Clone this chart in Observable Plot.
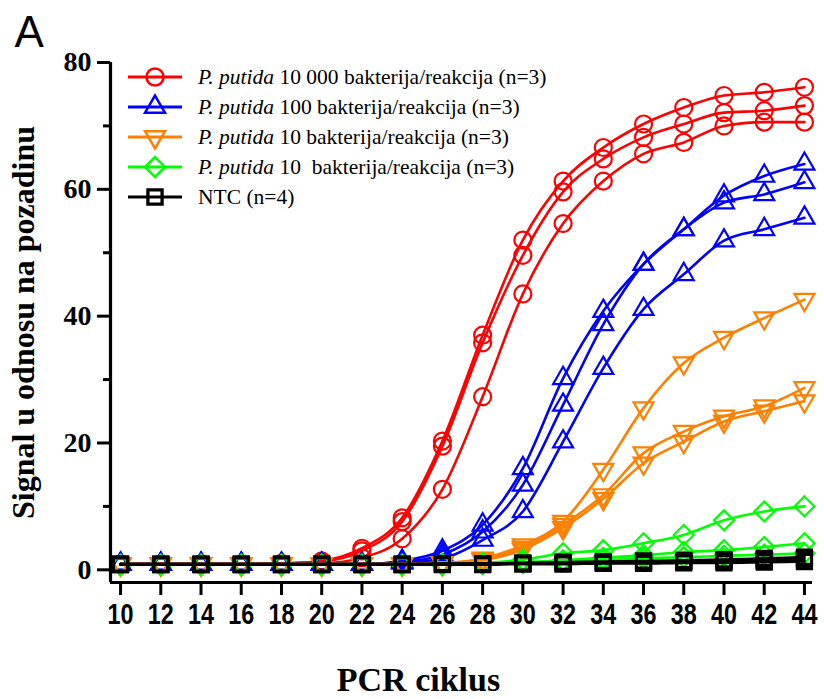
<!DOCTYPE html>
<html>
<head>
<meta charset="utf-8">
<script src="https://cdn.jsdelivr.net/npm/d3@7"></script>
<script src="https://cdn.jsdelivr.net/npm/@observablehq/plot@0.6"></script>
<style>
  body { margin: 0; background: #fff; }
  #chart svg { display: block; }
  g[aria-label="y-axis tick label"] text { font-family: "Liberation Serif", "Times New Roman", serif; font-size: 28px; font-weight: bold; fill: #000; }
  g[aria-label="x-axis tick label"] text { font-family: "Liberation Sans", Arial, sans-serif; font-size: 30px; font-weight: bold; fill: #000; }
</style>
</head>
<body>
<div id="chart"></div>
<script>
// ---- data ----
const cycles = [10,12,14,16,18,20,22,24,26,28,30,32,34,36,38,40,42,44];

const red1 = [0.9,0.9,0.9,0.9,1.0,1.4,3.4,8.2,20.3,37.0,52.0,61.3,66.6,70.3,72.9,74.8,75.3,76.1];
const red2 = [0.9,0.9,0.9,0.9,1.0,1.3,3.0,7.6,19.5,35.8,49.6,59.6,64.8,68.2,70.3,72.1,72.4,73.2];
const red3 = [0.9,0.9,0.9,0.9,0.9,1.0,1.9,4.9,12.7,27.3,43.5,54.6,61.3,65.6,67.4,70.0,70.6,70.6];

const blue1 = [0.9,0.9,0.9,0.9,0.9,0.9,0.9,1.4,3.0,7.1,16.0,30.2,40.8,48.2,53.7,59.0,62.1,64.0];
const blue2 = [0.9,0.9,0.9,0.9,0.9,0.9,0.9,1.2,2.4,6.0,13.4,26.0,38.7,48.2,53.7,57.9,59.2,61.1];
const blue3 = [0.9,0.9,0.9,0.9,0.9,0.9,0.9,1.1,1.8,4.7,9.2,20.2,31.8,41.1,46.6,51.9,53.7,55.5];

const orange1 = [0.9,0.9,0.9,0.9,0.9,0.9,0.9,0.9,1.1,1.8,3.9,7.6,15.8,25.5,32.6,36.6,39.7,42.6];
const orange2 = [0.9,0.9,0.9,0.9,0.9,0.9,0.9,0.9,1.0,1.6,3.5,7.1,11.8,18.4,21.8,24.2,25.8,28.7];
const orange3 = [0.9,0.9,0.9,0.9,0.9,0.9,0.9,0.9,1.0,1.5,3.2,6.6,11.2,16.8,20.2,23.4,25.0,26.6];

const green1 = [0.8,0.8,0.8,0.8,0.8,0.8,0.8,0.8,0.9,1.1,1.6,2.6,3.1,4.2,5.5,7.8,9.2,10.0];
const green2 = [0.8,0.8,0.8,0.8,0.8,0.8,0.8,0.8,0.8,1.0,1.2,1.5,1.9,2.3,2.8,3.1,3.6,4.2];
const green3 = [0.8,0.8,0.8,0.8,0.8,0.8,0.8,0.8,0.8,0.9,1.1,1.3,1.5,1.8,2.0,2.2,2.4,2.6];

const ntc1 = [0.9,0.9,0.9,0.9,0.9,0.9,0.9,0.9,1.0,1.0,1.1,1.2,1.3,1.4,1.5,1.6,1.8,2.0];
const ntc2 = [0.9,0.9,0.9,0.9,0.9,0.9,0.9,0.9,0.9,1.0,1.0,1.1,1.2,1.3,1.4,1.5,1.6,1.8];
const ntc3 = [0.8,0.8,0.8,0.8,0.8,0.8,0.8,0.8,0.9,0.9,1.0,1.0,1.1,1.2,1.3,1.3,1.4,1.5];
const ntc4 = [0.8,0.8,0.8,0.8,0.8,0.8,0.8,0.8,0.8,0.8,0.9,0.9,1.0,1.0,1.1,1.1,1.2,1.3];

const groupNames = ["10000", "100", "10a", "10b", "NTC"];
const groupReplicates = [
  [red1, red2, red3],
  [blue1, blue2, blue3],
  [orange1, orange2, orange3],
  [green1, green2, green3],
  [ntc1, ntc2, ntc3, ntc4]
];
const legendItalic = ["P. putida", "P. putida", "P. putida", "P. putida", ""];
const legendRest = [
  " 10 000 bakterija/reakcija (n=3)",
  " 100 bakterija/reakcija (n=3)",
  " 10 bakterija/reakcija (n=3)",
  " 10  bakterija/reakcija (n=3)",
  "NTC (n=4)"
];
const yMajorTicks = [0, 20, 40, 60, 80];
const yMinorTicks = [10, 30, 50, 70];
const xTicks = [10,12,14,16,18,20,22,24,26,28,30,32,34,36,38,40,42,44];
const xDomain = [9.5, 44.4];
const yDomain = [-2, 80];

// ---- styles ----
const groupStyles = [
  {color: "#ff0000", symbol: "circle",    r: 8.5, rotate: 0,   sw: 2.2},
  {color: "#0000ff", symbol: "triangle2", r: 9.5, rotate: 0,   sw: 2.2},
  {color: "#ff8000", symbol: "triangle2", r: 9.5, rotate: 180, sw: 2.2},
  {color: "#00ff00", symbol: "diamond2",  r: 9,   rotate: 0,   sw: 2.2},
  {color: "#000000", symbol: "square",    r: 8,   rotate: 0,   sw: 3}
];
const d3Symbols = {circle: d3.symbolCircle, triangle2: d3.symbolTriangle2, diamond2: d3.symbolDiamond2, square: d3.symbolSquare};

// ---- long table ----
const rows = [];
groupReplicates.forEach((reps, g) => {
  reps.forEach((vals, r) => {
    vals.forEach((v, i) => rows.push({group: groupNames[g], rep: groupNames[g] + "-" + r, cycle: cycles[i], value: v}));
  });
});

const W = 824, H = 699;
const M = {left: 110, right: 12, top: 62, bottom: 117};

function legendMark() {
  const g = d3.create("svg:g").attr("aria-label", "legend").attr("text-anchor", "start");
  const x0 = M.left;
  groupNames.forEach((name, i) => {
    const st = groupStyles[i];
    const cy = M.top + 15 + i * 30;
    g.append("line")
      .attr("x1", x0 + 18).attr("x2", x0 + 72)
      .attr("y1", cy).attr("y2", cy)
      .attr("stroke", st.color).attr("stroke-width", 3);
    g.append("path")
      .attr("d", d3.symbol(d3Symbols[st.symbol], Math.PI * st.r * st.r)())
      .attr("transform", `translate(${x0 + 45},${cy}) rotate(${st.rotate})`)
      .attr("fill", "none").attr("stroke", st.color).attr("stroke-width", st.sw + 0.3);
    const t = g.append("text")
      .attr("x", x0 + 88).attr("y", cy + 7)
      .attr("text-anchor", "start")
      .attr("font-family", "'Liberation Serif', 'Times New Roman', serif")
      .attr("font-size", 21.5)
      .attr("fill", "#000")
      .style("white-space", "pre");
    if (legendItalic[i]) t.append("tspan").attr("font-style", "italic").text(legendItalic[i]);
    t.append("tspan").text(legendRest[i]);
  });
  return g.node();
}

const marks = [];
groupNames.forEach((name, g) => {
  const st = groupStyles[g];
  const data = rows.filter(d => d.group === name);
  marks.push(Plot.line(data, {x: "cycle", y: "value", z: "rep", stroke: st.color, strokeWidth: 2.6, curve: "monotone-x"}));
  marks.push(Plot.dot(data, {x: "cycle", y: "value", symbol: st.symbol, r: st.r, rotate: st.rotate, stroke: st.color, strokeWidth: st.sw, fill: "none"}));
});

const chart = Plot.plot({
  width: W,
  height: H,
  marginLeft: M.left,
  marginRight: M.right,
  marginTop: M.top,
  marginBottom: M.bottom,
  style: {background: "#fff", color: "#000", fontFamily: "'Liberation Serif', serif"},
  x: {domain: xDomain},
  y: {domain: yDomain},
  marks: [
    ...marks,
    Plot.ruleX([xDomain[0]], {y1: yDomain[0], y2: yDomain[1], strokeWidth: 3.2, stroke: "#000"}),
    Plot.ruleY([yDomain[0]], {x1: xDomain[0], x2: xDomain[1], strokeWidth: 3.2, stroke: "#000"}),
    Plot.axisY({ticks: yMajorTicks, tickSize: 13, tickPadding: 6, strokeWidth: 3, label: null, tickFormat: d => String(d)}),
    Plot.axisY({ticks: yMinorTicks, tickSize: 7, strokeWidth: 3, label: null, tickFormat: () => ""}),
    Plot.axisX({ticks: xTicks, tickSize: 13, tickPadding: 7, strokeWidth: 3, label: null, tickFormat: d => String(d)}),
    Plot.text(["Signal u odnosu na pozadinu"], {frameAnchor: "left", rotate: -90, dx: -87, textAnchor: "middle", lineAnchor: "middle", fontSize: 32, fontWeight: "bold", fontFamily: "'Liberation Serif', 'Times New Roman', serif", fill: "#000"}),
    Plot.text(["PCR ciklus"], {frameAnchor: "bottom", dx: -43, dy: 98, textAnchor: "middle", lineAnchor: "middle", fontSize: 34, fontWeight: "bold", fontFamily: "'Liberation Serif', 'Times New Roman', serif", fill: "#000"}),
    Plot.text(["A"], {frameAnchor: "top-left", dx: -96, dy: -30, textAnchor: "start", lineAnchor: "middle", fontSize: 44, fontFamily: "'Liberation Sans', Arial, sans-serif", fill: "#000"}),
    legendMark
  ]
});

// narrow the x tick labels like the reference's condensed digits
d3.select(chart).selectAll('g[aria-label="x-axis tick label"] text')
  .attr("textLength", 26)
  .attr("lengthAdjust", "spacingAndGlyphs");

document.getElementById("chart").appendChild(chart);
</script>
</body>
</html>
